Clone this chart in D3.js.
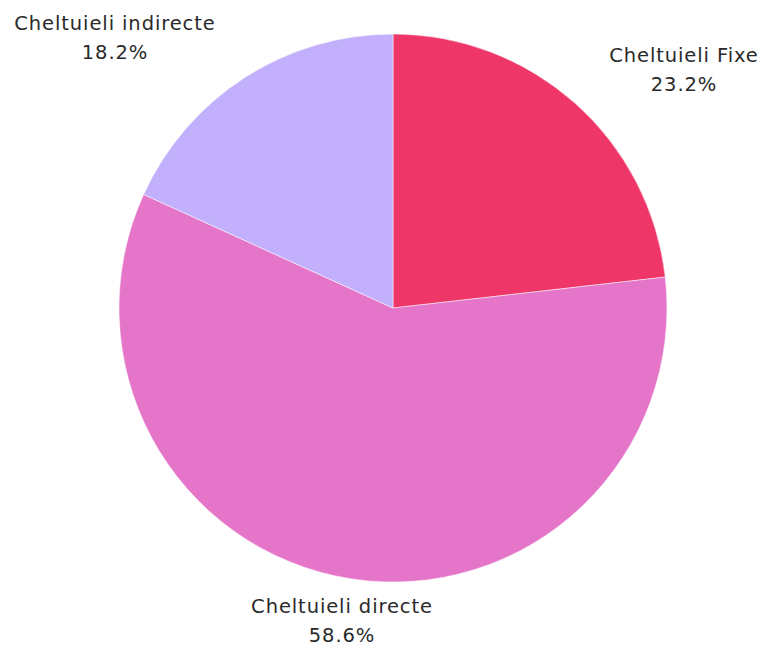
<!DOCTYPE html>
<html>
<head>
<meta charset="utf-8">
<script src="https://cdn.jsdelivr.net/npm/d3@7"></script>
<style>
  body { margin: 0; background: #fff; }
  text { font-family: "DejaVu Sans", "Open Sans", sans-serif; fill: #2a2a2a; letter-spacing: 0.9px; }
</style>
</head>
<body>
<div id="canvas"></div>
<script>
// DATA
const categories = ["Cheltuieli Fixe", "Cheltuieli directe", "Cheltuieli indirecte"];
const shares = [23.2, 58.6, 18.2];
const colors = ["#ee3768", "#e575c9", "#c2b0fd"];

// label anchor points (layout only)
const labelPos = [[684, 62], [342, 613], [115, 30]];

// DIMENSIONS
const width = 765;
const height = 648;
const cx = 393, cy = 308, radius = 274;

const svg = d3.select("#canvas")
  .append("svg")
  .attr("width", width)
  .attr("height", height);

const plot = svg.append("g")
  .attr("transform", `translate(${cx},${cy})`);

const pie = d3.pie().sort(null).value(d => d.value);
const arc = d3.arc().innerRadius(0).outerRadius(radius);

const rows = categories.map((c, i) => ({ name: c, value: shares[i], color: colors[i] }));

plot.selectAll("path")
  .data(pie(rows))
  .join("path")
  .attr("d", arc)
  .attr("fill", d => d.data.color)
  .attr("stroke", "#fff")
  .attr("stroke-width", 0.5);

// LABELS
const labels = svg.selectAll("g.label")
  .data(rows)
  .join("g")
  .attr("class", "label")
  .attr("transform", (d, i) => `translate(${labelPos[i][0]},${labelPos[i][1]})`);

labels.append("text")
  .attr("text-anchor", "middle")
  .attr("font-size", 19.5)
  .text(d => d.name);

labels.append("text")
  .attr("text-anchor", "middle")
  .attr("font-size", 19.5)
  .attr("y", 29)
  .text(d => d3.format(".1f")(d.value) + "%");
</script>
</body>
</html>
